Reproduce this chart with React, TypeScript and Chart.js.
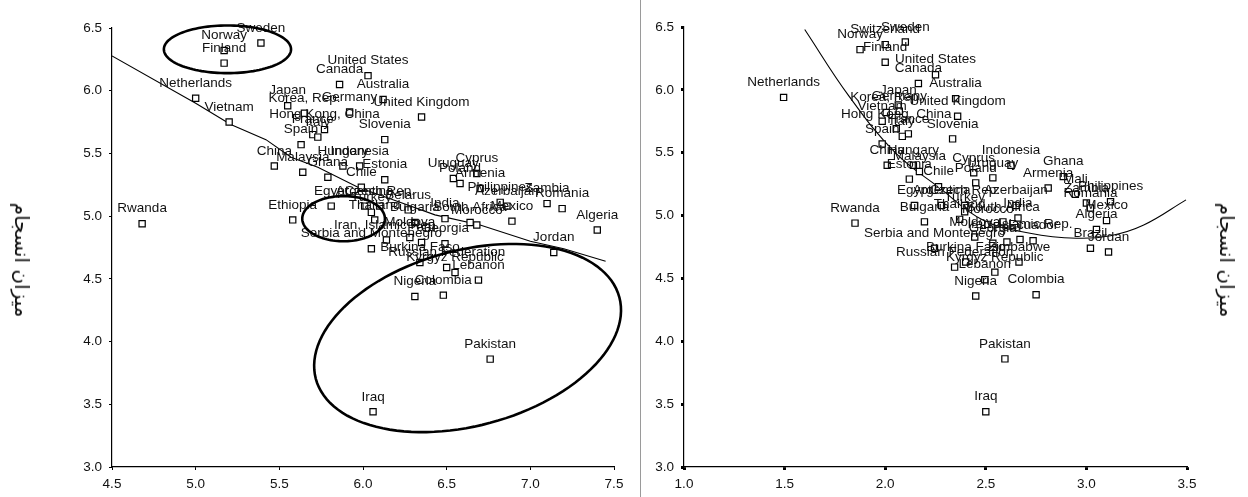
import React, { useEffect, useRef } from "react";
import { Chart, registerables } from "chart.js";
Chart.register(...registerables);

// ---------------- DATA ----------------
const countries = [
  "Sweden", "Switzerland", "Norway", "Finland", "United States", "Canada", "Australia",
  "Netherlands", "Japan", "Korea, Rep.", "Germany", "United Kingdom", "Vietnam",
  "Hong Kong, China", "France", "Italy", "Slovenia", "Spain", "China", "Hungary",
  "Indonesia", "Malaysia", "Ghana", "Estonia", "Chile", "Uruguay", "Poland", "Cyprus",
  "Armenia", "Mali", "Philippines", "Zambia", "Azerbaijan", "Romania", "Egypt",
  "Argentina", "Czech Rep.", "Belarus", "Turkey", "Thailand", "Bulgaria", "India",
  "South Africa", "Morocco", "Mexico", "Ethiopia", "Rwanda", "Iran, Islamic Rep.",
  "Moldova", "Peru", "Georgia", "Ecuador", "Algeria", "Serbia and Montenegro", "Brazil",
  "Jordan", "Burkina Faso", "Zimbabwe", "Russian Federation", "Kyrgyz Republic",
  "Lebanon", "Nigeria", "Colombia", "Pakistan", "Iraq",
];

// shared vertical value (ميزان انسجام)
const cohesion = [
  6.38, 6.36, 6.32, 6.22, 6.12, 6.05, 5.93,
  5.94, 5.88, 5.82, 5.83, 5.79, 5.75,
  5.69, 5.65, 5.63, 5.61, 5.57, 5.40, 5.40,
  5.40, 5.35, 5.31, 5.29, 5.23, 5.30, 5.26, 5.34,
  5.22, 5.17, 5.11, 5.10, 5.08, 5.06, 5.08,
  5.08, 5.08, 5.05, 5.03, 4.97, 4.95, 4.98,
  4.95, 4.93, 4.96, 4.97, 4.94, 4.81,
  4.83, 4.79, 4.78, 4.80, 4.89, 4.74, 4.74,
  4.71, 4.63, 4.63, 4.59, 4.55,
  4.49, 4.36, 4.37, 3.86, 3.44,
];

// left panel horizontal values (null = not shown)
const leftX: (number | null)[] = [
  5.39, null, 5.17, 5.17, 6.03, 5.86, 6.12,
  5.00, 5.55, 5.65, 5.92, 6.35, 5.20,
  5.77, 5.70, 5.73, 6.13, 5.63, 5.47, 5.88,
  5.98, 5.64, 5.79, 6.13, 5.99, 6.54, 6.58, 6.68,
  6.70, null, 6.82, 7.10, 6.86, 7.19, 5.81,
  6.01, 6.10, 6.27, 6.05, 6.07, 6.31, 6.49,
  6.64, 6.68, 6.89, 5.58, 4.68, 6.14,
  6.28, 6.35, 6.49, null, 7.40, 6.05, null,
  7.14, 6.34, null, 6.50, 6.55,
  6.69, 6.31, 6.48, 6.76, 6.06,
];

// right panel horizontal values (null = not shown)
const rightX: (number | null)[] = [
  2.10, 2.00, 1.875, 2.00, 2.25, 2.165, 2.35,
  1.495, 2.065, 2.005, 2.07, 2.36, 1.985,
  2.055, 2.115, 2.085, 2.335, 1.985, 2.01, 2.14,
  2.625, 2.17, 2.885, 2.12, 2.265, 2.535, 2.45, 2.44,
  2.81, 2.945, 3.12, 3.00, 2.65, 3.02, 2.145,
  2.28, 2.395, null, 2.395, 2.37, 2.195, 2.66,
  2.585, 2.51, 3.10, null, 1.85, 2.67,
  2.445, 2.605, 2.535, 2.735, 3.05, 2.245, 3.02,
  3.11, 2.40, 2.665, 2.345, 2.545,
  2.495, 2.45, 2.75, 2.595, 2.50,
];

// fitted curves
const leftFitX = [4.5, 5.0, 5.21, 5.42, 5.57, 5.73, 5.97, 6.2, 6.43, 6.7, 7.0, 7.2, 7.45];
const leftFitY = [6.277, 5.9, 5.73, 5.61, 5.47, 5.39, 5.23, 5.12, 5.01, 4.93, 4.8, 4.74, 4.64];
const rightFitX = [1.6, 1.82, 2.05, 2.27, 2.485, 2.72, 2.95, 3.12, 3.285, 3.495];
const rightFitY = [6.48, 5.95, 5.5, 5.22, 4.965, 4.86, 4.82, 4.84, 4.925, 5.125];

// highlight ellipses (data units): centre, end of first half-axis, end of second half-axis
const ellipseCx = [5.19, 5.884, 6.625];
const ellipseCy = [6.33, 4.98, 4.028];
const ellipseAx = [5.57, 6.131, 7.532];
const ellipseAy = [6.33, 4.98, 4.353];
const ellipseBx = [5.19, 5.884, 6.76];
const ellipseBy = [6.52, 5.16, 3.352];

const yAxisTitle = "ميزان انسجام";

// ---------------- PLUGINS ----------------
const FONT = '"Liberation Sans", Arial, Helvetica, sans-serif';

const labelPlugin = {
  id: "pointLabels",
  afterDatasetsDraw(chart: any) {
    const ctx = chart.ctx;
    const meta = chart.getDatasetMeta(0);
    const ds = chart.data.datasets[0];
    ctx.save();
    ctx.font = `13.5px ${FONT}`;
    ctx.fillStyle = "#111";
    ctx.textAlign = "center";
    ctx.textBaseline = "middle";
    meta.data.forEach((el: any, i: number) => {
      const p = ds.data[i];
      ctx.fillText(p.label, el.x, el.y - 15);
    });
    ctx.restore();
  },
};

const ellipsePlugin = {
  id: "ellipses",
  afterDraw(chart: any, _args: any, opts: any) {
    if (!opts || !opts.show) return;
    const ctx = chart.ctx;
    const xs = chart.scales.x;
    const ys = chart.scales.y;
    ctx.save();
    ctx.strokeStyle = "#000";
    ctx.lineWidth = 2.6;
    for (let e = 0; e < ellipseCx.length; e++) {
      const cx = xs.getPixelForValue(ellipseCx[e]);
      const cy = ys.getPixelForValue(ellipseCy[e]);
      const ax = xs.getPixelForValue(ellipseAx[e]) - cx;
      const ay = ys.getPixelForValue(ellipseAy[e]) - cy;
      const bx = xs.getPixelForValue(ellipseBx[e]) - cx;
      const by = ys.getPixelForValue(ellipseBy[e]) - cy;
      ctx.beginPath();
      for (let k = 0; k <= 120; k++) {
        const t = (k / 120) * Math.PI * 2;
        const px = cx + ax * Math.cos(t) + bx * Math.sin(t);
        const py = cy + ay * Math.cos(t) + by * Math.sin(t);
        if (k === 0) ctx.moveTo(px, py);
        else ctx.lineTo(px, py);
      }
      ctx.closePath();
      ctx.stroke();
    }
    ctx.restore();
  },
};

function buildPoints(xs: (number | null)[]) {
  const pts: any[] = [];
  countries.forEach((c, i) => {
    const x = xs[i];
    if (x !== null && x !== undefined) pts.push({ x, y: cohesion[i], label: c });
  });
  return pts;
}

function makeConfig(
  pts: any[],
  fitX: number[],
  fitY: number[],
  xMin: number,
  xMax: number,
  padding: any,
  tension: number,
  showEllipses: boolean,
  tickWidth: number
): any {
  const axisCommon = (min: number, max: number, isX: boolean) => ({
    type: "linear",
    min,
    max,
    ticks: {
      stepSize: 0.5,
      callback: (v: number) => Number(v).toFixed(1),
      font: { size: 13.5, family: FONT },
      color: "#111",
      padding: isX ? 6 : 7,
    },
    grid: {
      display: true,
      drawOnChartArea: false,
      drawTicks: true,
      tickLength: 3,
      tickWidth,
      tickColor: "#000",
      color: "#000",
    },
    border: { display: true, color: "#000", width: 1.2 },
    afterFit: (s: any) => {
      if (isX) s.height = 30;
      else s.width = 40;
    },
  });
  return {
    type: "scatter",
    data: {
      datasets: [
        {
          data: pts,
          pointStyle: "rect",
          pointRadius: 4.4,
          pointBorderWidth: 1.2,
          pointBackgroundColor: "#fff",
          pointBorderColor: "#000",
          showLine: false,
          order: 1,
        },
        {
          type: "line",
          data: fitX.map((x, i) => ({ x, y: fitY[i] })),
          borderColor: "#000",
          borderWidth: 1.1,
          pointRadius: 0,
          fill: false,
          tension,
          order: 2,
        },
      ],
    },
    options: {
      animation: false,
      responsive: false,
      maintainAspectRatio: false,
      devicePixelRatio: 1,
      layout: { padding },
      plugins: {
        legend: { display: false },
        tooltip: { enabled: false },
        ellipses: { show: showEllipses },
      },
      scales: {
        x: axisCommon(xMin, xMax, true),
        y: axisCommon(3.0, 6.5, false),
      },
    },
    plugins: [labelPlugin, ellipsePlugin],
  };
}

function Panel(props: { cfg: () => any; width: number; left: number }) {
  const ref = useRef<HTMLCanvasElement | null>(null);
  useEffect(() => {
    if (!ref.current) return;
    const chart = new Chart(ref.current, props.cfg());
    return () => chart.destroy();
  }, []);
  return (
    <canvas
      ref={ref}
      width={props.width}
      height={497}
      style={{ position: "absolute", left: props.left, top: 0, width: props.width, height: 497 }}
    />
  );
}

export default function App() {
  useEffect(() => {
    document.body.style.margin = "0";
  }, []);
  const titleStyle = (x: number): React.CSSProperties => ({
    position: "absolute",
    left: x,
    top: 260,
    transform: "translate(-50%, -50%) rotate(90deg)",
    whiteSpace: "nowrap",
    fontSize: 20,
    fontFamily: '"DejaVu Sans", "Noto Sans", sans-serif',
    color: "#111",
    direction: "rtl",
  });
  return (
    <div
      style={{
        position: "absolute",
        left: 0,
        top: 0,
        width: 1248,
        height: 497,
        background: "#fff",
        overflow: "hidden",
      }}
    >
      <Panel
        width={640}
        left={0}
        cfg={() =>
          makeConfig(buildPoints(leftX), leftFitX, leftFitY, 4.5, 7.5,
            { left: 72, right: 26, top: 28, bottom: 0 }, 0, true, 1)
        }
      />
      <Panel
        width={608}
        left={640}
        cfg={() =>
          makeConfig(buildPoints(rightX), rightFitX, rightFitY, 1.0, 3.5,
            { left: 4, right: 61, top: 27, bottom: 0 }, 0.4, false, 3)
        }
      />
      <div style={{ position: "absolute", left: 640, top: 0, width: 1, height: 497, background: "#9a9a9a" }} />
      <div style={titleStyle(22)}>{yAxisTitle}</div>
      <div style={titleStyle(1227)}>{yAxisTitle}</div>
    </div>
  );
}
